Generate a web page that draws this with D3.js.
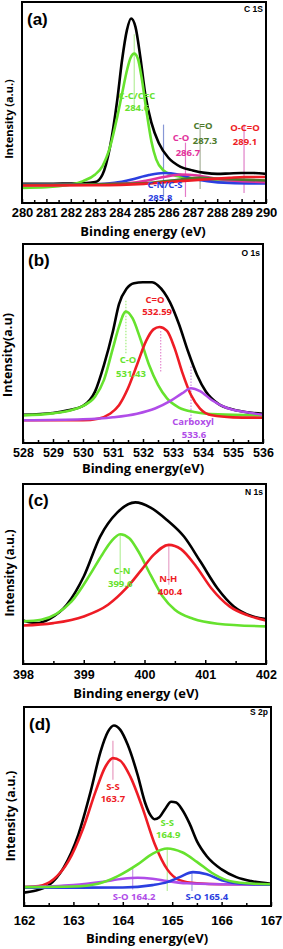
<!DOCTYPE html>
<meta charset="utf-8">
<style>
body { margin: 0; background: #fff; }
svg { display: block; }
.tk text { font-family: "Liberation Sans", Arial, sans-serif; font-weight: bold; fill: #000; }
.ttl { font-family: "Open Sans", sans-serif; font-weight: 700; fill: #000; }
.ann { font-family: "Open Sans", sans-serif; font-weight: 700; font-size: 9.5px; }
.lbl { font-family: "Liberation Sans", Arial, sans-serif; font-weight: bold; }
</style>
<svg width="283" height="949"></svg>
<script src="https://cdnjs.cloudflare.com/ajax/libs/d3/7.8.5/d3.min.js"></script>
<script>

// ---------- (a) C 1s ----------
var aTicks = [280, 281, 282, 283, 284, 285, 286, 287, 288, 289, 290];
var aBlack = [[280,9.5],[281,9.5],[282,9.7],[282.5,9.8],[283,10.4],[283.3,14.2],[283.6,27.5],[283.9,50.9],[284.1,71],[284.3,86],[284.47,91.8],[284.65,87.6],[284.85,72.6],[285.05,54.3],[285.3,40.1],[285.6,30],[286,22.5],[286.5,18],[287,16.2],[287.5,15],[288,14.5],[288.5,14.7],[289,14.9],[289.5,14.9],[290,14.5]];
var aGreen = [[280,7.5],[281,7.8],[281.5,8.3],[282,9.2],[282.5,10.9],[283,14.2],[283.3,18.4],[283.6,27.5],[283.9,42.6],[284.1,54.3],[284.3,65.9],[284.45,72.3],[284.6,74.3],[284.75,71.8],[284.9,62.6],[285.1,45.9],[285.3,30.9],[285.5,21.7],[285.8,16.2],[286.2,13.9],[286.8,12.5],[287.5,11.7],[288.5,11.2],[290,10.9]];
var aBlue = [[280,9.2],[283,9.3],[283.8,10],[284.5,11.7],[285.2,13.9],[285.8,14.9],[286.4,14.2],[287,12.2],[287.6,10.9],[288.5,10],[290,9.7]];
var aMagenta = [[280,8.8],[284,9.5],[285,10.9],[285.8,12.9],[286.5,14.2],[287.2,13.7],[288,12],[289,10.9],[290,10.4]];
var aOlive = [[280,9],[285,9.8],[286.5,11.7],[287.3,12.5],[288.2,12],[290,11.2]];
var aRed = [[280,8.7],[283,8.8],[285,9.5],[286.5,10.9],[287.5,11.7],[288.5,12.5],[289.1,12.9],[290,12.9]];
var aMarkX = [284.6, 285.8, 286.7, 287.3, 289.1];
var aMarkTop = [84, 39, 30, 39, 39];
var aMarkBot = [47, 3, 3, 7, 5];
var aLabels = ["C-C/C=C", "284.6", "C-N/C-S", "285.8", "C-O", "286.7", "C=O", "287.3", "O-C=O", "289.1"];
var aLabelX = [284.71, 284.71, 285.86, 285.66, 286.52, 286.8, 287.42, 287.5, 289.14, 289.14];
var aLabelY = [51.7, 45.8, 7.5, 1.0, 30.8, 23.4, 36.8, 29.4, 35.8, 28.9];

// ---------- (b) O 1s ----------
var bTicks = [528, 529, 530, 531, 532, 533, 534, 535, 536];
var bBlack = [[528,14.2],[529,15.1],[529.5,16.4],[530,18.6],[530.4,25.8],[530.7,39.3],[531,56.3],[531.2,69.8],[531.45,77.5],[531.7,80.3],[532,80.8],[532.3,80.8],[532.5,79.2],[532.7,75.8],[532.9,70.7],[533.2,59.7],[533.5,46.1],[533.8,34.2],[534.1,25.8],[534.5,19.8],[535,16.8],[535.5,15.4],[536,14.7]];
var bGreen = [[528,13.9],[529,14.9],[529.5,16.1],[530,18.6],[530.4,23.2],[530.7,31.7],[531,47.8],[531.2,58.5],[531.43,66.1],[531.65,62.7],[531.9,52.9],[532.2,39.3],[532.5,29.2],[532.8,22.4],[533.2,17.8],[533.7,15.6],[534.5,14.4],[536,13.9]];
var bRed = [[528,11.4],[530,11.4],[530.5,12.2],[530.9,14.7],[531.2,19],[531.5,27.5],[531.8,39.3],[532.1,51.2],[532.35,57.1],[532.55,58.3],[532.8,56.3],[533.05,47.8],[533.3,35.9],[533.6,24.1],[533.9,17.3],[534.3,13.9],[535,12.9],[536,12.7]];
var bPurple = [[528,11.4],[530,11.9],[531,12.9],[531.8,14.7],[532.4,17.3],[532.9,21],[533.3,24.9],[533.6,27.5],[533.9,26.1],[534.3,21.5],[534.8,17.6],[535.4,15.6],[536,14.2]];
var bMarkX = [531.43, 532.59, 533.6];
var bMarkTop = [71.5, 56.3, 38.5];
var bMarkBot = [44.4, 35.9, 10.5];
var bLabels = ["C=O", "532.59", "C-O", "531.43", "Carboxyl", "533.6"];
var bLabelX = [532.4, 532.47, 531.5, 531.6, 533.67, 533.7];
var bLabelY = [70.5, 64.3, 40.2, 33.3, 9.0, 2.5];

// ---------- (c) N 1s ----------
var cTicks = [398, 399, 400, 401, 402];
var cBlack = [[398,24.2],[398.22,22.7],[398.44,25.1],[398.72,32.9],[399,48.6],[399.27,70.8],[399.55,84.1],[399.85,89.8],[400.1,86.9],[400.37,80],[400.65,70.8],[400.92,56.9],[401.2,42.1],[401.47,32],[401.75,26.8],[402,25]];
var cGreen = [[398,23.7],[398.3,24.6],[398.55,27.9],[398.8,34.8],[399.1,49.5],[399.3,60.6],[399.45,68],[399.6,72.1],[399.75,69.9],[399.9,62.5],[400.1,49.5],[400.3,37.5],[400.5,30.1],[400.8,25.1],[401.2,22.4],[402,20.9]];
var cRed = [[398,21.4],[398.5,22.7],[399,26.4],[399.4,32.9],[399.7,42.1],[399.95,52.3],[400.15,60.6],[400.4,66.2],[400.6,63.8],[400.85,54.2],[401.1,42.1],[401.4,32],[401.7,27],[402,24.2]];
var cMarkX = [399.6, 400.4];
var cMarkTop = [71.7, 66.2];
var cMarkBot = [44.9, 44.0];
var cLabels = ["C-N", "399.6", "N-H", "400.4"];
var cLabelX = [399.63, 399.6, 400.39, 400.42];
var cLabelY = [50, 42.6, 45.4, 38.1];

// ---------- (d) S 2p ----------
var dTicks = [162, 163, 164, 165, 166, 167];
var dBlack = [[162,6.7],[162.2,7.5],[162.5,10.4],[162.8,19.2],[163.1,35.9],[163.35,57.6],[163.55,77.6],[163.7,87.6],[163.82,90.7],[163.95,88.5],[164.1,81],[164.3,65.9],[164.45,52],[164.55,46],[164.64,43.6],[164.74,44.6],[164.85,48.5],[164.98,52.4],[165.08,52],[165.2,48.5],[165.35,41.5],[165.5,32.6],[165.7,25],[166,18.4],[166.3,14.5],[166.6,12.5],[167,11.2]];
var dRed = [[162,9.5],[162.3,10],[162.6,13.4],[162.9,22.5],[163.2,39.2],[163.45,57.6],[163.65,70.1],[163.8,74.3],[163.95,73],[164.15,65.1],[164.4,49.2],[164.65,30.9],[164.9,18.4],[165.15,13],[165.5,11.4],[166,10.9],[167,10.9]];
var dGreen = [[162,9.5],[163,9.8],[163.5,11.2],[163.9,15],[164.3,20.9],[164.6,26.2],[164.9,28.9],[165.2,27],[165.5,22.2],[165.8,16.7],[166.1,13],[166.5,11.4],[167,10.9]];
var dPurple = [[162,9.5],[163,10.5],[163.6,12.2],[164,13.7],[164.3,14.2],[164.6,13.7],[164.9,12.5],[165.3,11.4],[166,10.9],[167,10.7]];
var dBlue = [[162,9.2],[164,9.3],[164.6,10.5],[164.9,12],[165.15,14.5],[165.42,17],[165.7,15.9],[166,12.9],[166.4,11.2],[167,10.7]];
var dMarkX = [163.8, 164.9, 164.2, 165.4];
var dMarkTop = [83, 29.2, 19.2, 16.7];
var dMarkBot = [63.4, 7.5, 8.3, 7.5];
var dLabels = ["S-S", "163.7", "S-S", "164.9", "S-O 164.2", "S-O 165.4"];
var dLabelX = [163.8, 163.8, 164.9, 164.92, 164.23, 165.7];
var dLabelY = [58.3, 52.1, 40.4, 34.0, 3.0, 3.0];

// colours
var cBlk = "#000", cGrn = "#66e22e", cRd = "#ee1c25", cBlu = "#2b3fe0", cPur = "#b04ce8", cMag = "#e2329c", cOlv = "#4d7a2b";

var svg = d3.select("svg");

var panels = [
  { tag: "(a)", core: "C 1S", left: 22, right: 266, top: 2, bottom: 203, domain: [280, 290], ticks: aTicks, minorStep: 0.5,
    tickFs: 13, tickPad: 4.8, xTitle: "Binding energy (eV)", xTitleX: 143, xTitleY: 236, yTitle: "Intensity (a.u.)", yTitleX: 13, yTitleY: 119, yTitleFs: 11,
    tagY: 25, coreX: 263, coreY: 12,
    curves: [[aBlack, cBlk], [aGreen, cGrn], [aBlue, cBlu], [aMagenta, cMag], [aOlive, cOlv], [aRed, cRd]],
    marks: [aMarkX, aMarkTop, aMarkBot, ["#b7ef9c", "#8797d6", "#e47ac7", "#a7b29a", "#e080c8"], false],
    labels: [aLabels, aLabelX, aLabelY, [cGrn, cGrn, cBlu, cBlu, cMag, cMag, cOlv, cOlv, cRd, cRd]] },
  { tag: "(b)", core: "O 1s", left: 23, right: 263, top: 244, bottom: 443, domain: [528, 536], ticks: bTicks, minorStep: 0.5,
    tickFs: 12.5, tickPad: 5, xTitle: "Binding energy(eV)", xTitleX: 143, xTitleY: 473, yTitle: "Intensity(a.u)", yTitleX: 12, yTitleY: 355, yTitleFs: 12.5,
    tagY: 266, coreX: 260, coreY: 256,
    curves: [[bBlack, cBlk], [bGreen, cGrn], [bRed, cRd], [bPurple, cPur]],
    marks: [bMarkX, bMarkTop, bMarkBot, ["#a4ee7e", "#e48bcf", "#cc8be8"], true],
    labels: [bLabels, bLabelX, bLabelY, [cRd, cRd, cGrn, cGrn, cPur, cPur]] },
  { tag: "(c)", core: "N 1s", left: 23, right: 266, top: 484, bottom: 664, domain: [398, 402], ticks: cTicks, minorStep: 0.5,
    tickFs: 12.5, tickPad: 6, xTitle: "Binding energy (eV)", xTitleX: 136, xTitleY: 698, yTitle: "Intensity (a.u.)", yTitleX: 14, yTitleY: 573, yTitleFs: 12,
    tagY: 506, coreX: 263, coreY: 495,
    curves: [[cBlack, cBlk], [cGreen, cGrn], [cRed, cRd]],
    marks: [cMarkX, cMarkTop, cMarkBot, ["#b7ef9c", "#e8a3c8"], false],
    labels: [cLabels, cLabelX, cLabelY, [cGrn, cGrn, cRd, cRd]] },
  { tag: "(d)", core: "S 2p", left: 24, right: 271, top: 707, bottom: 906, domain: [162, 167], ticks: dTicks, minorStep: 0.5,
    tickFs: 13, tickPad: 10, xTitle: "Binding energy(eV)", xTitleX: 147, xTitleY: 943, yTitle: "Intensity (a.u.)", yTitleX: 15, yTitleY: 816, yTitleFs: 12.5,
    tagY: 730, coreX: 268, coreY: 715,
    curves: [[dBlack, cBlk], [dRed, cRd], [dPurple, cPur], [dBlue, cBlu], [dGreen, cGrn]],
    marks: [dMarkX, dMarkTop, dMarkBot, ["#e89ac0", "#b7ef9c", "#c99ae6", "#9aa6e6"], false],
    labels: [dLabels, dLabelX, dLabelY, [cRd, cRd, cGrn, cGrn, cPur, cBlu]] }
];

panels.forEach(function(p, i) {
  var x = d3.scaleLinear().domain(p.domain).range([p.left, p.right]);
  var y = d3.scaleLinear().domain([0, 100]).range([p.bottom, p.top]);
  var g = svg.append("g");

  g.append("clipPath").attr("id", "clip" + i)
    .append("rect").attr("x", p.left).attr("y", p.top)
    .attr("width", p.right - p.left).attr("height", p.bottom - p.top);

  // peak position markers
  var mk = p.marks;
  g.append("g").selectAll("line").data(mk[0]).enter().append("line")
    .attr("x1", function(d) { return x(d); })
    .attr("x2", function(d) { return x(d); })
    .attr("y1", function(d, j) { return y(mk[1][j]); })
    .attr("y2", function(d, j) { return y(mk[2][j]); })
    .attr("stroke", function(d, j) { return mk[3][j]; })
    .attr("stroke-width", 1.2)
    .attr("stroke-dasharray", mk[4] ? "1.5,1.5" : null);

  var line = d3.line()
    .x(function(d) { return x(d[0]); })
    .y(function(d) { return y(d[1]); })
    .curve(d3.curveMonotoneX);

  g.append("g").attr("clip-path", "url(#clip" + i + ")")
    .selectAll("path").data(p.curves).enter().append("path")
    .attr("d", function(d) { return line(d[0]); })
    .attr("fill", "none")
    .attr("stroke", function(d) { return d[1]; })
    .attr("stroke-width", 2.6)
    .attr("stroke-linejoin", "round");

  // annotations
  var lb = p.labels;
  g.append("g").selectAll("text").data(lb[0]).enter().append("text")
    .attr("class", "ann")
    .attr("x", function(d, j) { return x(lb[1][j]); })
    .attr("y", function(d, j) { return y(lb[2][j]); })
    .attr("text-anchor", "middle")
    .attr("fill", function(d, j) { return lb[3][j]; })
    .text(function(d) { return d; });

  // x axis: inward ticks
  var minor = d3.range(p.domain[0] + p.minorStep, p.domain[1], 1);
  g.append("g").attr("transform", "translate(0," + p.bottom + ")")
    .call(d3.axisBottom(x).tickValues(minor).tickSize(-3).tickFormat(""))
    .call(function(s) { s.select(".domain").remove(); s.selectAll("line").attr("stroke-width", 1.5); });

  g.append("g").attr("class", "tk").attr("transform", "translate(0," + p.bottom + ")")
    .call(d3.axisBottom(x).tickValues(p.ticks).tickSizeInner(-4).tickSizeOuter(0).tickPadding(p.tickPad).tickFormat(d3.format("d")))
    .call(function(s) {
      s.select(".domain").remove();
      s.selectAll("line").attr("stroke-width", 1.5);
      s.selectAll("text").style("font-size", p.tickFs + "px");
    });

  // frame
  g.append("rect").attr("x", p.left).attr("y", p.top)
    .attr("width", p.right - p.left).attr("height", p.bottom - p.top)
    .attr("fill", "none").attr("stroke", "#000").attr("stroke-width", 2);

  // titles
  g.append("text").attr("class", "ttl").attr("x", p.xTitleX).attr("y", p.xTitleY)
    .attr("text-anchor", "middle").style("font-size", "13px").text(p.xTitle);
  g.append("text").attr("class", "ttl")
    .attr("transform", "translate(" + p.yTitleX + "," + p.yTitleY + ") rotate(-90)")
    .attr("text-anchor", "middle").style("font-size", p.yTitleFs + "px").text(p.yTitle);

  g.append("text").attr("class", "lbl").attr("x", p.left + 5).attr("y", p.tagY)
    .style("font-size", "17px").text(p.tag);
  g.append("text").attr("class", "lbl").attr("x", p.coreX).attr("y", p.coreY)
    .attr("text-anchor", "end").style("font-size", "8.5px").text(p.core);
});

</script>
